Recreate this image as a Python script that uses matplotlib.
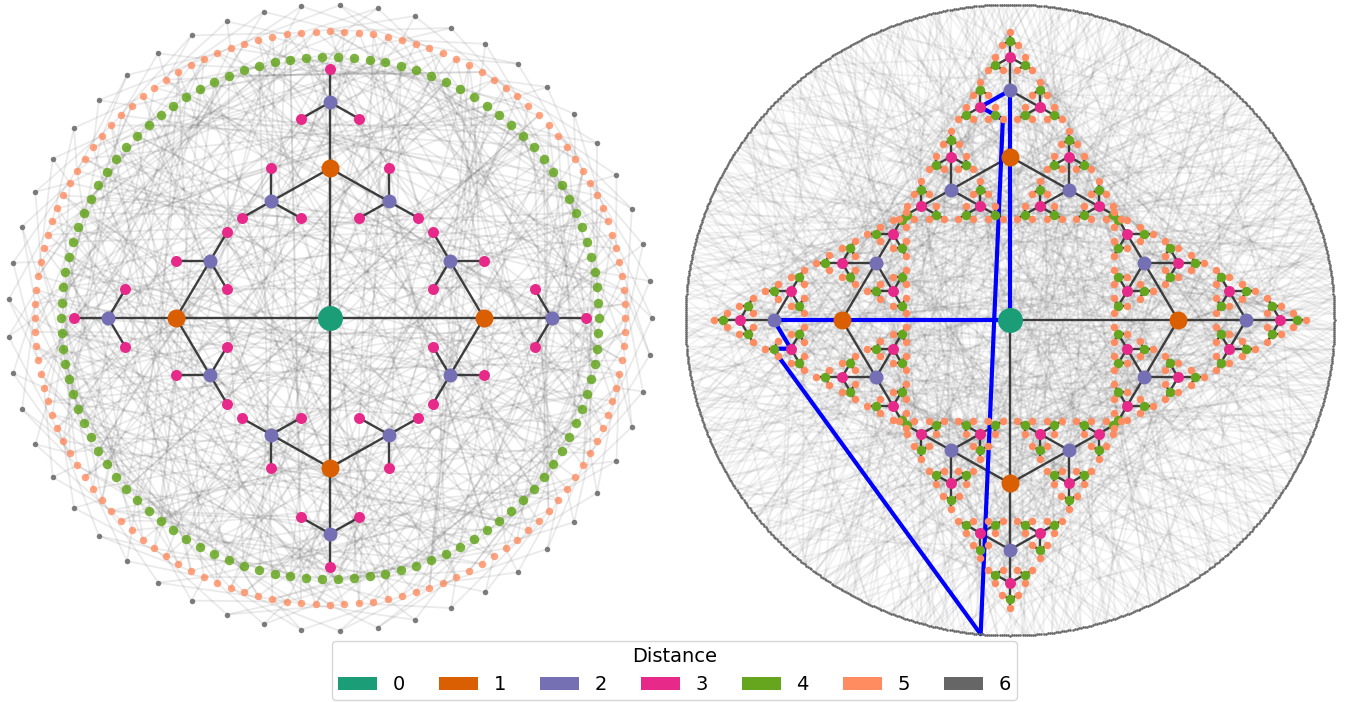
import numpy as np
import matplotlib
matplotlib.use("Agg")
import matplotlib.pyplot as plt
from matplotlib.collections import LineCollection
from matplotlib.patches import Patch

# legend
distance_labels = ["0", "1", "2", "3", "4", "5", "6"]
distance_colors = ["#1b9e77", "#d95f02", "#7570b3", "#e7298a", "#66a61e", "#ff8c61", "#666666"]

# tree shape
branch_angles = [90, 0, -90, 180]

# ring sizes
left_green_count = 106
left_orange_count = 128
left_grey_count = 53
right_ring_count = 972

# left panel links
green_parent = [
    7, 22, 31, 3, 14, 28, 9, 35, 18, 1, 25, 11, 33, 5, 20, 16, 29, 0, 12, 26, 8, 34, 2, 19, 23, 6,
    30, 15, 10, 27, 4, 32, 17, 21, 13, 24, 19, 2, 28, 13, 33, 7, 24, 10, 0, 16, 31, 5, 22, 35, 12,
    27, 3, 18, 9, 29, 14, 25, 1, 34, 20, 6, 11, 30, 17, 8, 26, 23, 4, 21, 15, 32, 30, 12, 1, 23, 9,
    17, 34, 6, 27, 14, 20, 3, 25, 10, 32, 18, 0, 8, 29, 15, 22, 5, 33, 11, 26, 2, 19, 7, 31, 13, 24,
    16, 4, 21]
orange_parent = [
    41, 3, 87, 62, 15, 98, 29, 74, 8, 55, 103, 36, 67, 20, 91, 47, 12, 80, 59, 25, 101, 33, 70, 6,
    94, 44, 17, 85, 52, 28, 77, 10, 65, 99, 38, 22, 83, 57, 1, 72, 48, 105, 31, 14, 89, 61, 26, 78,
    5, 95, 40, 19, 68, 53, 104, 34, 11, 82, 60, 24, 92, 46, 7, 75, 35, 100, 16, 58, 86, 27, 43, 2,
    71, 96, 50, 21, 64, 9, 88, 37, 56, 102, 13, 79, 30, 66, 42, 93, 4, 73, 18, 51, 84, 32, 97, 63,
    23, 0, 76, 45, 90, 54, 39, 69, 49, 81, 42, 12, 99, 27, 60, 5, 86, 33, 72, 18, 94, 51, 8, 77, 38,
    103, 24, 66, 1, 90, 47, 15]
grey_offsets = [
    -7, 2, 6, -4, 1, 8, -6, -1, 5, -8, 3, 7, -5, 0, 4, -3, 2, 9, -7, -2, 6, -6, 1, 3, -8, 4, 7, -4,
    -1, 5, -5, 3, 8, -7, 0, 6, -3, 2, 5, -6, -2, 9, -8, 1, 4, -5, 2, 7, -4, 0, 6, -7, 3, 8, -2, 1, 5,
    -6, 4, 7, -9, -1, 3, -5, 2, 6, -3, 1, 8, -7, -2, 4, -4, 3, 5, -8, 0, 7, -6, 2, 4, -3, -1, 9, -5,
    1, 6, -7, 3, 5, -2, 2, 8, -6, 0, 4, -4, 1, 7, -8, 3, 6, -5, -1, 5, -7, 2, 9, -3, 0, 6, -6, 4, 8,
    -4, 1, 3, -5, -2, 7, -8, 2, 5, -3, 4, 6, -7, -1, 3, -6, 1, 8, -2, 2, 7, -5, 0, 5, -9, 3, 6, -4,
    1, 4, -7, 2, 8, -3, -1, 6, -6, 3, 5, -5, 0, 7, -8, 4, 6]

# right panel links: ring node reached by each distance 5 node
orange_to_ring = [
    512, 87, 903, 341, 660, 128, 775, 46, 429, 958, 233, 611, 390, 814, 172, 547, 21, 696, 305, 882,
    467, 99, 736, 258, 623, 15, 940, 381, 529, 160, 847, 74, 702, 316, 489, 925, 204, 568, 33, 795,
    412, 119, 651, 970, 277, 836, 354, 591, 58, 723, 446, 185, 908, 296, 630, 8, 763, 372, 505, 141,
    869, 224, 687, 41, 933, 455, 326, 578, 107, 804, 249, 645, 396, 952, 66, 534, 181, 749, 284, 860,
    421, 13, 612, 347, 896, 155, 718, 480, 92, 577, 263, 829, 37, 671, 402, 964, 213, 555, 131, 787,
    309, 640, 78, 921, 436, 192, 741, 520, 25, 853, 364, 601, 147, 688, 270, 945, 495, 53, 776, 333,
    563, 109, 890, 417, 236, 659, 3, 812, 385, 528, 174, 730, 291, 967, 448, 84, 622, 357, 875, 202,
    542, 61, 758, 319, 914, 473, 125, 677, 244, 839, 393, 590, 18, 706, 281, 936, 510, 153, 798, 340,
    634, 96, 861, 426, 219, 572, 49, 745, 302, 903, 461, 138, 665, 378, 822, 252, 517, 29, 691, 410,
    955, 168, 604, 71, 783, 335, 539, 196, 878, 443, 113, 648, 266, 917, 484, 6, 726, 360, 585, 227,
    844, 399, 143, 670, 56, 769, 312, 948, 501, 189, 615, 88, 832, 274, 553, 433, 36, 712, 368, 898,
    209, 596, 122, 752, 288, 961, 469, 64, 641, 345, 807, 178, 525, 11, 684, 415, 929, 241, 574, 101,
    790, 323, 866, 452, 150, 625, 79, 738, 298, 943, 493, 216, 559, 31, 699, 376, 818, 134, 607, 260,
    885, 439, 44, 762, 351, 533, 198, 910, 476, 93, 654, 229, 850, 387, 582, 116, 735, 279, 968, 507,
    163, 618, 24, 780, 331, 922, 458, 76, 673, 247, 826, 404, 549, 187, 708, 52, 893, 365, 598, 136,
    754, 294, 938, 486, 210, 635, 83, 857, 420, 16, 693, 344, 566, 171, 801, 255, 951, 499, 105, 647,
    38, 771, 328, 880, 431, 222, 588, 69, 715, 307, 915, 464, 156, 629, 271, 835, 392, 541, 10, 682,
    237, 957, 523, 124]

# the web is too dense to read line by line, so the typed links are paired up again
left_pairings = [0, 37, 81]
right_pairings = [0, 97, 211]

# paths of the highlighted loop: child choices from the root
loop_path_a = (0, 0, 1, 2, 2)
loop_path_b = (3, 0, 1, 0, 1)
loop_ring_node = 715

node_px = [25, 18, 14, 11, 9.5, 7.5, 5.5]


def marker_area(px):
    return (px * 0.72) ** 2


def build_tree(steps):
    pos = {(): (0.0, 0.0)}
    for b, base in enumerate(branch_angles):
        stack = [((b,), base, (0.0, 0.0))]
        while stack:
            path, angle, origin = stack.pop()
            step = steps[len(path) - 1]
            xy = (origin[0] + step * np.cos(np.radians(angle)),
                  origin[1] + step * np.sin(np.radians(angle)))
            pos[path] = xy
            if len(path) < len(steps):
                for i, turn in enumerate([0, 120, -120]):
                    stack.append((path + (i,), base + turn, xy))
    return pos


def ring(count, radius, start=0.0):
    a = np.radians(start + np.arange(count) * 360.0 / count)
    return np.column_stack([radius * np.cos(a), radius * np.sin(a)])


def level(pos, depth):
    return [p for p in sorted(pos) if len(p) == depth]


def draw_tree(ax, pos, depth):
    segs = [(pos[p[:-1]], pos[p]) for p in pos if 1 <= len(p) <= depth]
    ax.add_collection(LineCollection(segs, colors="#333333", linewidths=1.7, alpha=0.95, zorder=3))
    for d in range(depth + 1):
        xy = np.array([pos[p] for p in level(pos, d)])
        ax.scatter(xy[:, 0], xy[:, 1], s=marker_area(node_px[d]), c=distance_colors[d],
                   linewidths=0, zorder=6 + d)


fig = plt.figure(figsize=(13.48, 7.02), dpi=100)
W, H = 1348.0, 702.0

# left panel
ax1 = fig.add_axes([0, 1 - 636 / H, 660 / W, 636 / H])
ax1.set_xlim(-330 / 322, 330 / 322)
ax1.set_ylim(-318 / 313, 318 / 313)
ax1.axis("off")

tree1 = build_tree([0.478, 0.211, 0.1056])
pinks = np.array([tree1[p] for p in level(tree1, 3)])
greens = ring(left_green_count, 0.835, 180)
oranges = ring(left_orange_count, 0.916)
greys = ring(left_grey_count, 1.0)

light = []
for k, parent in enumerate(green_parent):
    light.append((greens[k], pinks[parent]))
for shift in left_pairings:
    for k, parent in enumerate(orange_parent):
        light.append((oranges[(k + shift) % left_orange_count], greens[parent]))
for k in range(left_grey_count):
    nearest = int(round(k * left_orange_count / left_grey_count))
    for off in grey_offsets[k * 3:k * 3 + 3]:
        light.append((greys[k], oranges[(nearest + off) % left_orange_count]))
ax1.add_collection(LineCollection(light, colors="#555555", linewidths=1.3, alpha=0.12, zorder=1))

draw_tree(ax1, tree1, 3)
ax1.scatter(greens[:, 0], greens[:, 1], s=marker_area(node_px[4]), c=distance_colors[4],
            alpha=0.85, linewidths=0, zorder=5)
ax1.scatter(oranges[:, 0], oranges[:, 1], s=marker_area(node_px[5]), c=distance_colors[5],
            alpha=0.8, linewidths=0, zorder=5)
ax1.scatter(greys[:, 0], greys[:, 1], s=marker_area(node_px[6]), c=distance_colors[6],
            alpha=0.85, linewidths=0, zorder=5)

# right panel
ax2 = fig.add_axes([680 / W, 1 - 640 / H, 660 / W, 640 / H])
ax2.set_xlim(-330 / 324.5, 330 / 324.5)
ax2.set_ylim(-320 / 315.5, 320 / 315.5)
ax2.axis("off")

tree2 = build_tree([0.518, 0.21, 0.105, 0.0525, 0.027])
outer = ring(right_ring_count, 1.0)
leaves = level(tree2, 5)
chords = []
for shift in right_pairings:
    for i, p in enumerate(leaves):
        chords.append((tree2[p], outer[orange_to_ring[(i + shift) % len(orange_to_ring)]]))
ax2.add_collection(LineCollection(chords, colors="#555555", linewidths=1.3, alpha=0.08, zorder=1))

draw_tree(ax2, tree2, 5)
ax2.scatter(outer[:, 0], outer[:, 1], s=3.5, c=distance_colors[6], linewidths=0, zorder=5)

loop_xy = [tree2[loop_path_a[:i]] for i in range(len(loop_path_a) + 1)]
loop_xy.append(outer[loop_ring_node])
loop_xy += [tree2[loop_path_b[:i]] for i in range(len(loop_path_b), -1, -1)]
loop_xy = np.array(loop_xy)
ax2.plot(loop_xy[:, 0], loop_xy[:, 1], color="#0000ff", lw=3, zorder=4, solid_capstyle="butt")

handles = [Patch(facecolor=c, label=l) for c, l in zip(distance_colors, distance_labels)]
fig.legend(handles=handles, title="Distance", ncol=7, fontsize=14, title_fontsize=14,
           loc="lower center", bbox_to_anchor=(674.5 / W, -8 / H), columnspacing=1.755, borderpad=0.3)

fig.savefig("out.png", dpi=100)
